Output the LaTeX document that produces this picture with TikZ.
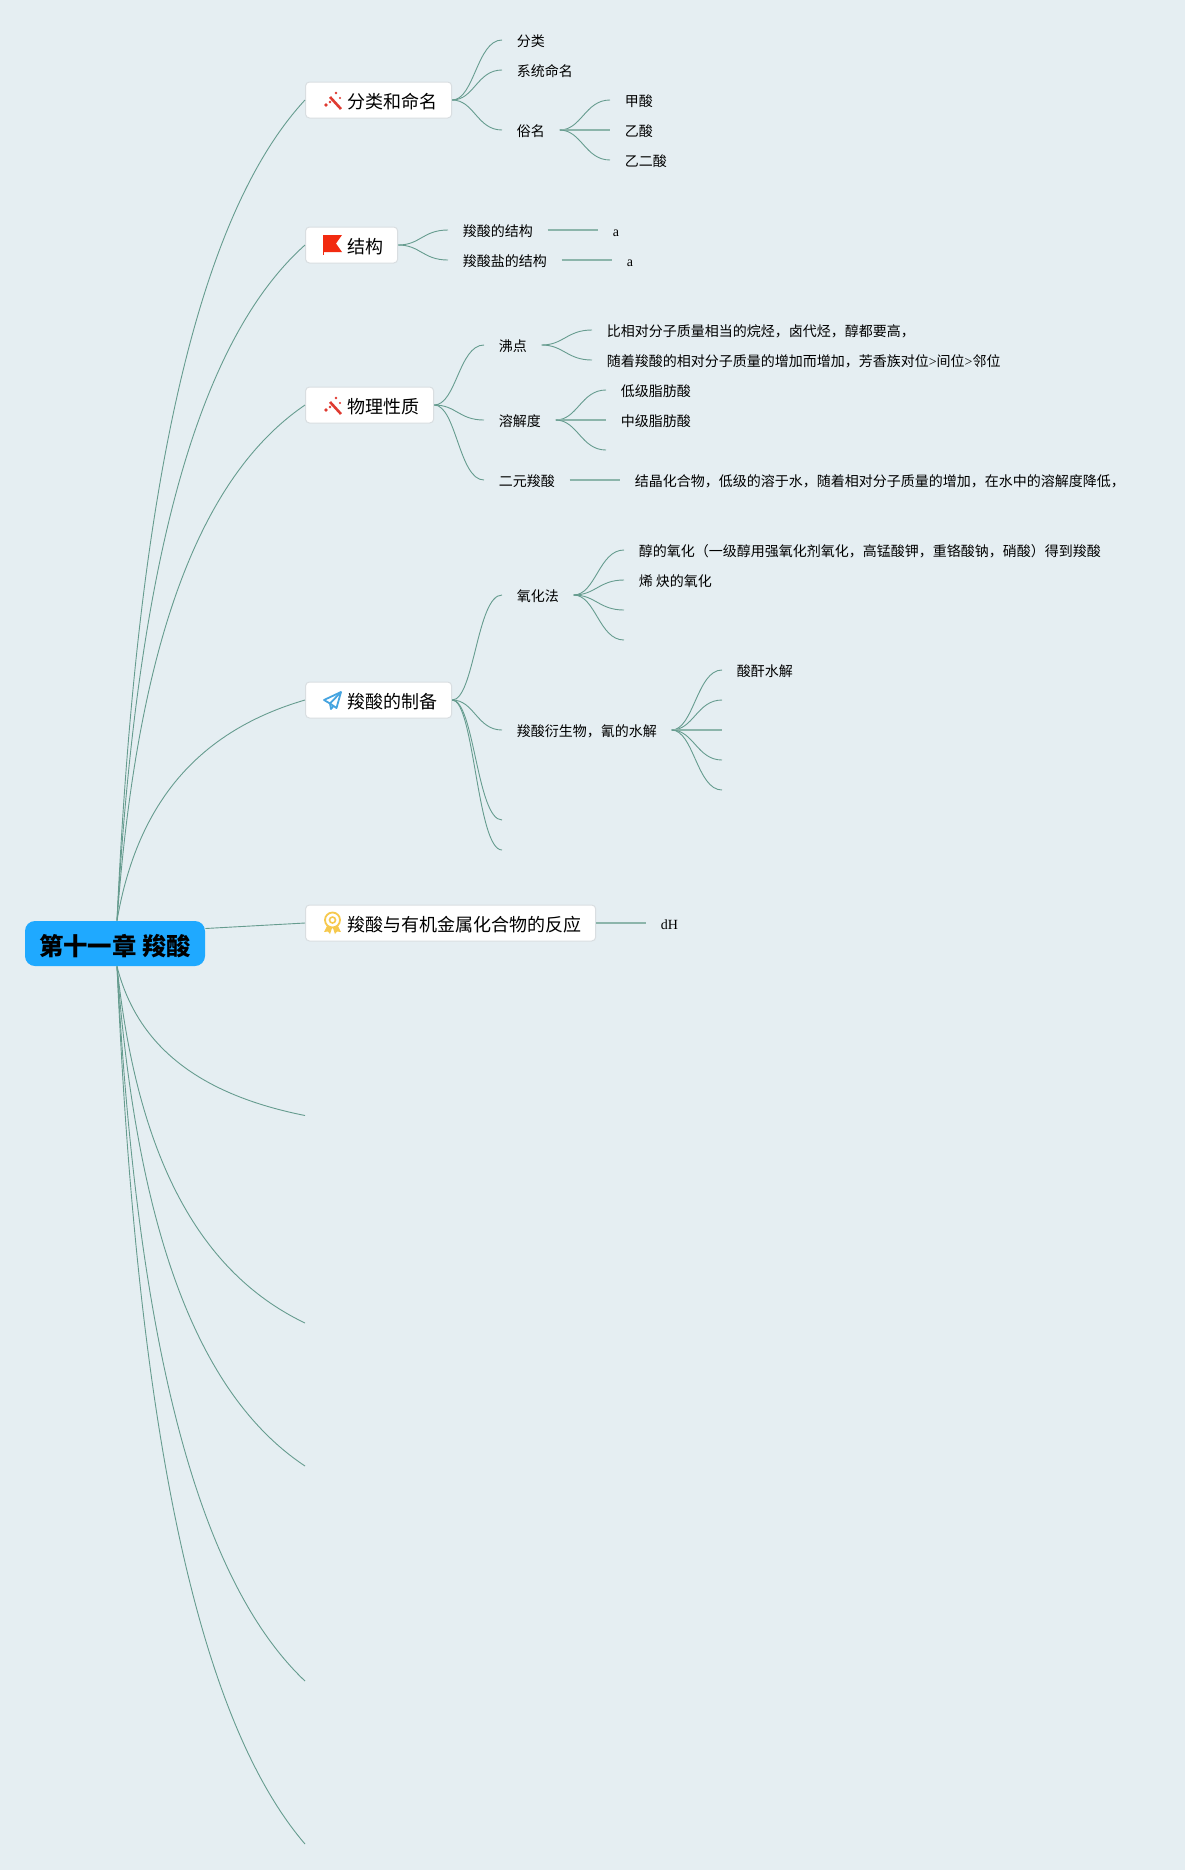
\documentclass[tikz,border=0pt]{standalone}
\usepackage{fontspec}
\setmainfont{Noto Sans CJK SC}
\newfontfamily\latinfont{Liberation Serif}
\definecolor{bgmap}{HTML}{E5EEF2}
\definecolor{linkgreen}{HTML}{669C8F}
\definecolor{rootblue}{HTML}{1FA9FF}
\definecolor{boxedge}{HTML}{D9DEE1}
\definecolor{wandred}{HTML}{DF3A30}
\definecolor{flagred}{HTML}{F22A10}
\definecolor{planeblue}{HTML}{45A4E0}
\definecolor{medalyellow}{HTML}{F6C94E}
\tikzset{
  rootbox/.style={fill=rootblue,rounded corners=5pt,minimum width=90pt,minimum height=22.5pt,inner sep=0pt,font=\fontsize{12.2pt}{14pt}\selectfont\bfseries,text height=13pt,text depth=1.4pt},
  topicbox/.style={anchor=west,draw=boxedge,line width=0.5pt,fill=white,rounded corners=2pt,minimum height=18pt,inner xsep=7pt,inner ysep=0pt,font=\fontsize{9pt}{11pt}\selectfont,text height=9.5pt,text depth=1.3pt,execute at begin node=\hspace*{14.1pt}},
  leaf/.style={anchor=west,inner xsep=7.2pt,inner ysep=0pt,font=\fontsize{7pt}{9pt}\selectfont,text height=9pt,text depth=2.4pt},
  link/.style={draw=linkgreen,line width=0.45pt},
  flatlink/.style={draw=linkgreen!75,line width=0.7pt},
  wandicon/.pic={
    \draw[wandred,line width=1.3pt] (25,-3) -- (36,9);
    \fill[wandred] (31,-7) circle[radius=1.3] (21,5) circle[radius=1.8] (35,-2) circle[radius=1.1] (25,2) circle[radius=1.3];
  },
  flagicon/.pic={
    \fill[flagred] (18,-10) -- (37,-10) -- (31,-1.5) -- (37,7) -- (18,7) -- cycle;
    \draw[flagred,line width=0.5pt] (18,-10) -- (18,10);
  },
  planeicon/.pic={
    \draw[planeblue,line width=0.9pt,line join=round] (19,0) -- (36,-8) -- (31.5,8) -- (25,3.5) -- cycle;
    \draw[planeblue,line width=0.9pt,line join=round] (36,-8) -- (25,3.5) -- (26,9) -- (28.5,6);
  },
  medalicon/.pic={
    \draw[medalyellow,line width=0.9pt] (27.5,-3) circle[radius=7.5];
    \draw[medalyellow,line width=0.8pt] (27.5,-3) circle[radius=3];
    \fill[medalyellow] (22,3) -- (19,9) -- (23,8.5) -- (25,11) -- (27,5) -- cycle;
    \fill[medalyellow] (33,3) -- (36,9) -- (32,8.5) -- (30,11) -- (28,5) -- cycle;
  }
}
\begin{document}
\begin{tikzpicture}[x=0.5pt,y=-0.5pt]
\fill[bgmap] (0,0) rectangle (1185,1870);
\useasboundingbox (0,0) rectangle (1185,1870);

\node[rootbox] (root) at (115,943.5) {第十一章 羧酸};

% topics
\node[topicbox] (naming) at (305,100) {分类和命名};
\node[topicbox] (struct) at (305,245) {结构};
\node[topicbox] (phys) at (305,405) {物理性质};
\node[topicbox] (prep) at (305,700) {羧酸的制备};
\node[topicbox] (organo) at (305,923) {羧酸与有机金属化合物的反应};
\pic at (naming.west) {wandicon};
\pic at (struct.west) {flagicon};
\pic at (phys.west) {wandicon};
\pic at (prep.west) {planeicon};
\pic at (organo.west) {medalicon};
\coordinate (sixth) at (305,1115.5);
\coordinate (seventh) at (305,1323);
\coordinate (eighth) at (305,1466);
\coordinate (ninth) at (305,1681);
\coordinate (tenth) at (305,1844);

% trunk
\draw[link] ([xshift=1pt]root.north) .. controls (136,510) and (192,222) .. (naming.west);
\draw[link] ([xshift=1pt]root.north) .. controls (136,583) and (192,346) .. (struct.west);
\draw[link] ([xshift=1pt]root.north) .. controls (136,663) and (192,482) .. (phys.west);
\draw[link] ([xshift=1pt]root.north) .. controls (136,810) and (192,733) .. (prep.west);
\draw[link] ([yshift=7.5pt]root.east) -- (organo.west);
\draw[link] ([xshift=1pt]root.south) .. controls (136,1041) and (192,1093) .. (sixth);
\draw[link] ([xshift=1pt]root.south) .. controls (136,1144) and (192,1269) .. (seventh);
\draw[link] ([xshift=1pt]root.south) .. controls (136,1216) and (192,1391) .. (eighth);
\draw[link] ([xshift=1pt]root.south) .. controls (136,1323) and (192,1574) .. (ninth);
\draw[link] ([xshift=1pt]root.south) .. controls (136,1405) and (192,1712) .. (tenth);

% naming
\node[leaf] (classes) at (502,40) {分类};
\node[leaf] (system) at (502,70) {系统命名};
\node[leaf] (common) at (502,130) {俗名};
\node[leaf] (formic) at (610,100) {甲酸};
\node[leaf] (acetic) at (610,130) {乙酸};
\node[leaf] (oxalic) at (610,160) {乙二酸};
\draw[link] (naming.east) .. controls +(22,0) and +(-25,0) .. (classes.west);
\draw[link] (naming.east) .. controls +(22,0) and +(-25,0) .. (system.west);
\draw[link] (naming.east) .. controls +(22,0) and +(-25,0) .. (common.west);
\draw[link] (common.east) .. controls +(22,0) and +(-25,0) .. (formic.west);
\draw[flatlink] (common.east) -- (acetic.west);
\draw[link] (common.east) .. controls +(22,0) and +(-25,0) .. (oxalic.west);

% structure
\node[leaf] (acid) at (448,230) {羧酸的结构};
\node[leaf] (salt) at (448,260) {羧酸盐的结构};
\node[leaf] (acida) at (598,230) {\latinfont a};
\node[leaf] (salta) at (612,260) {\latinfont a};
\draw[link] (struct.east) .. controls +(22,0) and +(-25,0) .. (acid.west);
\draw[link] (struct.east) .. controls +(22,0) and +(-25,0) .. (salt.west);
\draw[flatlink] (acid.east) -- (acida.west);
\draw[flatlink] (salt.east) -- (salta.west);

% physical properties
\node[leaf] (boil) at (484,345) {沸点};
\node[leaf] (solub) at (484,420) {溶解度};
\node[leaf] (diacid) at (484,480) {二元羧酸};
\node[leaf] (boila) at (592,330) {比相对分子质量相当的烷烃，卤代烃，醇都要高，};
\node[leaf] (boilb) at (592,360) {随着羧酸的相对分子质量的增加而增加，芳香族对位{\latinfont >}间位{\latinfont >}邻位};
\node[leaf] (low) at (606,390) {低级脂肪酸};
\node[leaf] (mid) at (606,420) {中级脂肪酸};
\coordinate (solubc) at (606,450);
\node[leaf] (crystal) at (620,480) {结晶化合物，低级的溶于水，随着相对分子质量的增加，在水中的溶解度降低，};
\draw[link] (phys.east) .. controls +(22,0) and +(-25,0) .. (boil.west);
\draw[link] (phys.east) .. controls +(22,0) and +(-25,0) .. (solub.west);
\draw[link] (phys.east) .. controls +(22,0) and +(-25,0) .. (diacid.west);
\draw[link] (boil.east) .. controls +(22,0) and +(-25,0) .. (boila.west);
\draw[link] (boil.east) .. controls +(22,0) and +(-25,0) .. (boilb.west);
\draw[link] (solub.east) .. controls +(22,0) and +(-25,0) .. (low.west);
\draw[flatlink] (solub.east) -- (mid.west);
\draw[link] (solub.east) .. controls +(22,0) and +(-25,0) .. (solubc);
\draw[flatlink] (diacid.east) -- (crystal.west);

% preparation
\node[leaf] (oxid) at (502,595) {氧化法};
\node[leaf] (hydro) at (502,730) {羧酸衍生物，氰的水解};
\coordinate (prepc) at (502,820);
\coordinate (prepd) at (502,850);
\node[leaf] (alcohol) at (624,550) {醇的氧化（一级醇用强氧化剂氧化，高锰酸钾，重铬酸钠，硝酸）得到羧酸};
\node[leaf] (alkene) at (624,580) {烯 炔的氧化};
\coordinate (oxidc) at (624,610);
\coordinate (oxidd) at (624,640);
\node[leaf] (anhyd) at (722,670) {酸酐水解};
\coordinate (hydrob) at (722,700);
\coordinate (hydroc) at (722,730);
\coordinate (hydrod) at (722,760);
\coordinate (hydroe) at (722,790);
\draw[link] (prep.east) .. controls +(22,0) and +(-25,0) .. (oxid.west);
\draw[link] (prep.east) .. controls +(22,0) and +(-25,0) .. (hydro.west);
\draw[link] (prep.east) .. controls +(22,0) and +(-25,0) .. (prepc);
\draw[link] (prep.east) .. controls +(22,0) and +(-25,0) .. (prepd);
\draw[link] (oxid.east) .. controls +(22,0) and +(-25,0) .. (alcohol.west);
\draw[link] (oxid.east) .. controls +(22,0) and +(-25,0) .. (alkene.west);
\draw[link] (oxid.east) .. controls +(22,0) and +(-25,0) .. (oxidc);
\draw[link] (oxid.east) .. controls +(22,0) and +(-25,0) .. (oxidd);
\draw[link] (hydro.east) .. controls +(22,0) and +(-25,0) .. (anhyd.west);
\draw[link] (hydro.east) .. controls +(22,0) and +(-25,0) .. (hydrob);
\draw[flatlink] (hydro.east) -- (hydroc);
\draw[link] (hydro.east) .. controls +(22,0) and +(-25,0) .. (hydrod);
\draw[link] (hydro.east) .. controls +(22,0) and +(-25,0) .. (hydroe);

% organometallic
\node[leaf] (dh) at (646,923) {\latinfont dH};
\draw[flatlink] (organo.east) -- (dh.west);
\end{tikzpicture}
\end{document}
